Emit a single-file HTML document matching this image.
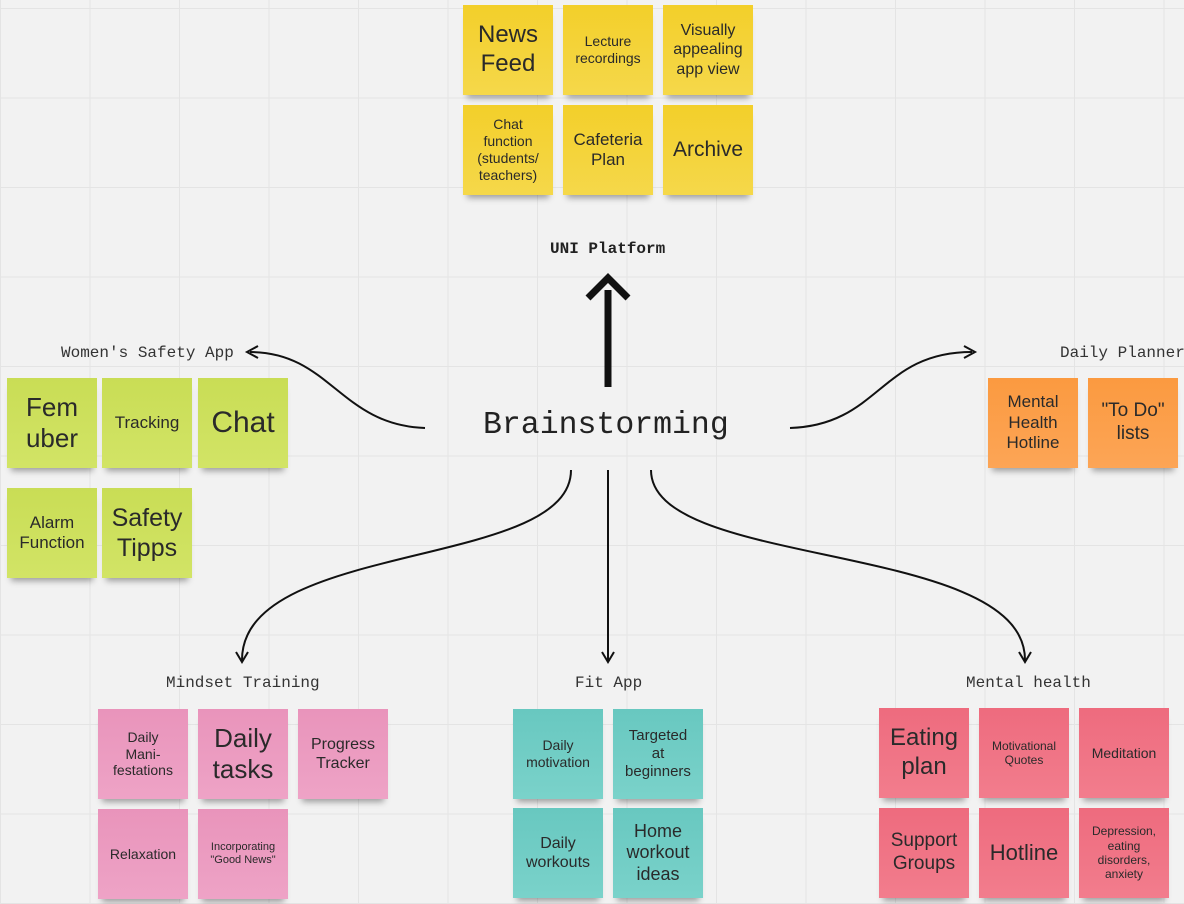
<!DOCTYPE html>
<html><head><meta charset="utf-8"><style>
html,body{margin:0;padding:0}
body{width:1184px;height:904px;position:relative;overflow:hidden;background:#f2f2f2;
background-image:linear-gradient(to right,#e4e4e4 1px,transparent 1px),linear-gradient(to bottom,#e4e4e4 1px,transparent 1px);
background-size:89.5px 89.5px;background-position:0 8px;font-family:"Liberation Sans",sans-serif}
.n{position:absolute;width:90px;height:90px;display:flex;align-items:center;justify-content:center;text-align:center;color:#2a2a2a;box-shadow:0 7px 6px -4px rgba(0,0,0,.35);line-height:1.2;box-sizing:border-box;padding:2px}
.y{background:linear-gradient(#f3cf2a,#f5d84a)}
.g{background:linear-gradient(#c9dd55,#d2e466)}
.o{background:linear-gradient(#fb9a40,#fca556)}
.p{background:linear-gradient(#e994bb,#eea3c6)}
.t{background:linear-gradient(#68c8c0,#7ad2ca)}
.r{background:linear-gradient(#ee6b7e,#f27d8d)}
.l{position:absolute;font-family:"Liberation Mono",monospace;font-size:16px;color:#333;white-space:nowrap}
</style></head><body>
<svg width="1184" height="904" style="position:absolute;left:0;top:0" fill="none" stroke="#111" stroke-width="2">
<path d="M425 428 C340 425,330 352,250 352"/><path d="M258 346 L247 352 L258 358"/>
<path d="M790 428 C880 425,880 352,972 352"/><path d="M964 346 L975 352 L964 358"/>
<path d="M571 470 C571 570,242 540,242 660"/><path d="M236 652 L242 662 L248 652"/>
<path d="M608 470 L608 660"/><path d="M602 652 L608 662 L614 652"/>
<path d="M651 470 C651 570,1025 540,1025 660"/><path d="M1019 652 L1025 662 L1031 652"/>
<path d="M608 387 L608 290 M588 298 L608 278 L628 298" stroke-width="7"/>
</svg>
<div class="l" style="left:550px;top:240px;font-weight:bold;color:#222">UNI Platform</div>
<div class="l" style="left:61px;top:344px">Women's Safety App</div>
<div class="l" style="left:1060px;top:344px">Daily Planner</div>
<div class="l" style="left:166px;top:674px">Mindset Training</div>
<div class="l" style="left:575px;top:674px">Fit App</div>
<div class="l" style="left:966px;top:674px">Mental health</div>
<div class="l" style="left:483px;top:408px;font-size:31.5px;color:#222">Brainstorming</div>

<div class="n y" style="left:463px;top:5px;font-size:24px">News<br>Feed</div>
<div class="n y" style="left:563px;top:5px;font-size:14px">Lecture<br>recordings</div>
<div class="n y" style="left:663px;top:5px;font-size:16px">Visually<br>appealing<br>app view</div>
<div class="n y" style="left:463px;top:105px;font-size:14px">Chat<br>function<br>(students/<br>teachers)</div>
<div class="n y" style="left:563px;top:105px;font-size:17px">Cafeteria<br>Plan</div>
<div class="n y" style="left:663px;top:105px;font-size:21px">Archive</div>

<div class="n g" style="left:7px;top:378px;font-size:26px">Fem<br>uber</div>
<div class="n g" style="left:102px;top:378px;font-size:17px">Tracking</div>
<div class="n g" style="left:198px;top:378px;font-size:30px">Chat</div>
<div class="n g" style="left:7px;top:488px;font-size:17px">Alarm<br>Function</div>
<div class="n g" style="left:102px;top:488px;font-size:25px">Safety<br>Tipps</div>

<div class="n o" style="left:988px;top:378px;font-size:17px">Mental<br>Health<br>Hotline</div>
<div class="n o" style="left:1088px;top:378px;font-size:19px">"To Do"<br>lists</div>

<div class="n p" style="left:98px;top:709px;font-size:14px">Daily<br>Mani-<br>festations</div>
<div class="n p" style="left:198px;top:709px;font-size:26px">Daily<br>tasks</div>
<div class="n p" style="left:298px;top:709px;font-size:16px">Progress<br>Tracker</div>
<div class="n p" style="left:98px;top:809px;font-size:14px">Relaxation</div>
<div class="n p" style="left:198px;top:809px;font-size:11px">Incorporating<br>"Good News"</div>

<div class="n t" style="left:513px;top:709px;font-size:14px">Daily<br>motivation</div>
<div class="n t" style="left:613px;top:709px;font-size:15px">Targeted<br>at<br>beginners</div>
<div class="n t" style="left:513px;top:808px;font-size:16px">Daily<br>workouts</div>
<div class="n t" style="left:613px;top:808px;font-size:18px">Home<br>workout<br>ideas</div>

<div class="n r" style="left:879px;top:708px;font-size:24px">Eating<br>plan</div>
<div class="n r" style="left:979px;top:708px;font-size:12px">Motivational<br>Quotes</div>
<div class="n r" style="left:1079px;top:708px;font-size:14px">Meditation</div>
<div class="n r" style="left:879px;top:808px;font-size:19px">Support<br>Groups</div>
<div class="n r" style="left:979px;top:808px;font-size:22px">Hotline</div>
<div class="n r" style="left:1079px;top:808px;font-size:12px">Depression,<br>eating<br>disorders,<br>anxiety</div>
</body></html>
